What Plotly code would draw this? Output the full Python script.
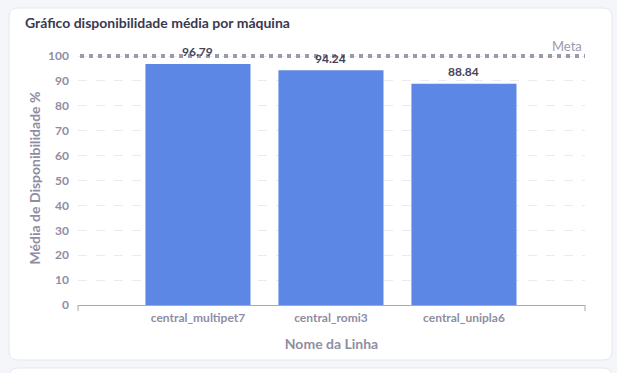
import plotly.graph_objects as go

categories = ["central_multipet7", "central_romi3", "central_unipla6"]
values = [96.79, 94.24, 88.84]
meta_value = 100
y_ticks = [0, 10, 20, 30, 40, 50, 60, 70, 80, 90, 100]

W, H = 617, 373
L, R, T, B = 78, 32, 51, 68
pw, ph = W - L - R, H - T - B
y_top = 100 * ph / (H - B - 56)

def px(x):
    return (x - L) / pw

def py(y):
    return (H - B - y) / ph

def rounded(x0, y0, x1, y1, r):
    rx, ry = r / pw, r / ph
    X0, X1 = px(x0), px(x1)
    Y0, Y1 = py(y0), py(y1)
    return (f"M {X0+rx},{Y0} L {X1-rx},{Y0} Q {X1},{Y0} {X1},{Y0-ry} "
            f"L {X1},{Y1+ry} Q {X1},{Y1} {X1-rx},{Y1} L {X0+rx},{Y1} "
            f"Q {X0},{Y1} {X0},{Y1+ry} L {X0},{Y0-ry} Q {X0},{Y0} {X0+rx},{Y0} Z")

font_family = "Lato, 'Noto Sans', sans-serif"
gray = "#8f8da3"

fig = go.Figure()
fig.add_trace(go.Bar(
    x=categories, y=values, width=0.79,
    marker=dict(color="#5d87e4", line=dict(width=0)),
    hoverinfo="skip",
))
fig.add_trace(go.Scatter(
    x=[px(80), px(585)], y=[meta_value, meta_value], xaxis="x2", yaxis="y",
    mode="lines", line=dict(color="#9b99ab", width=4, dash="4px,5px"),
    hoverinfo="skip",
))

annotations = []
for c, v in zip(categories, values):
    annotations.append(dict(
        x=c, y=v, xref="x", yref="y", text=f"{v:.2f}", showarrow=False,
        yshift=12, font=dict(family=font_family, size=12, color="#45435a", weight="bold"),
    ))
annotations.append(dict(
    x=px(584), y=meta_value, xref="paper", yref="y", text="Meta", showarrow=False,
    xanchor="right", yanchor="middle", yshift=10,
    font=dict(family=font_family, size=13, color="#9c9aae"),
))

shapes = [
    dict(type="path", xref="paper", yref="paper", path=rounded(9, 8, 612, 360, 9),
         fillcolor="white", line=dict(color="#e7e8ed", width=1), layer="below"),
    dict(type="path", xref="paper", yref="paper", path=rounded(9, 368, 612, 420, 9),
         fillcolor="white", line=dict(color="#e7e8ed", width=1), layer="below"),
    dict(type="line", xref="paper", yref="paper", x0=0, x1=0, y0=0, y1=py(311),
         line=dict(color="#a9a8b3", width=1)),
    dict(type="line", xref="paper", yref="paper", x0=1, x1=1, y0=0, y1=py(311),
         line=dict(color="#a9a8b3", width=1)),
]

fig.update_layout(
    width=W, height=H,
    margin=dict(l=L, r=R, t=T, b=B),
    paper_bgcolor="#f5f6f9", plot_bgcolor="white",
    showlegend=False,
    title=dict(text="Gráfico disponibilidade média por máquina",
               x=25 / W, xanchor="left", xref="container",
               y=1 - 23 / H, yanchor="middle", yref="container",
               font=dict(family=font_family, size=14, color="#3a3950", weight="bold")),
    font=dict(family=font_family),
    annotations=annotations,
    shapes=shapes,
    bargap=0.2,
    xaxis2=dict(overlaying="x", range=[0, 1], visible=False, fixedrange=True),
)
fig.layout.xaxis.update(
    range=[-0.902, 2.91], showgrid=False, showline=True, linecolor="#a9a8b3", linewidth=1,
    ticks="", ticklabelstandoff=2,
    tickfont=dict(family=font_family, size=12, color=gray, weight="bold"),
    title=dict(text="Nome da Linha", standoff=14,
               font=dict(family=font_family, size=14, color=gray, weight="bold")),
    zeroline=False,
)
fig.update_yaxes(
    range=[0, y_top], tickvals=y_ticks, showgrid=True, gridcolor="#ebebef", griddash="dash",
    gridwidth=1, zeroline=False, showline=False, ticks="",
    ticklabelstandoff=8,
    tickfont=dict(family=font_family, size=12, color=gray, weight="bold"),
    title=dict(text="Média de Disponibilidade %", standoff=4,
               font=dict(family=font_family, size=14, color=gray, weight="bold")),
)

fig.write_html(
    "out.html",
    config={"displayModeBar": False},
    post_script="document.body.style.margin='0';document.body.style.background='#f5f6f9';",
)
